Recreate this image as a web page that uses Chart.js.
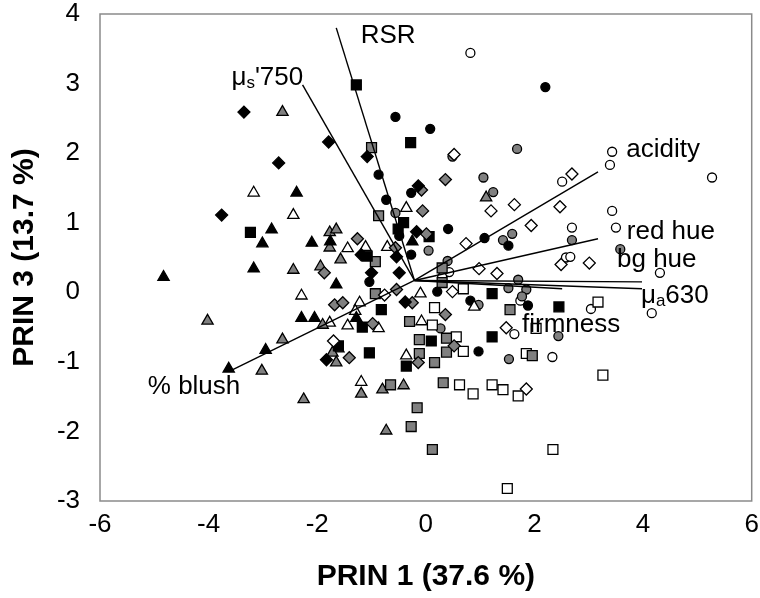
<!DOCTYPE html>
<html>
<head>
<meta charset="utf-8">
<script src="https://cdn.jsdelivr.net/npm/chart.js@4"></script>
<style>
  html, body { margin: 0; padding: 0; background: #fff; }
  #wrap { width: 760px; height: 598px; }
</style>
</head>
<body>
<div id="wrap"><canvas id="biplot" width="760" height="598"></canvas></div>
<script>
// PCA scores (PRIN 1, PRIN 3), one array per marker style
const blackDiamonds = [[-3.35,2.59],[-2.71,1.86],[-3.76,1.11],[-1.79,2.16],[-1.08,1.95],[-0.14,1.53],[-0.17,0.87],[-1.19,0.54],[-1.00,0.28],[-0.49,0.28],[-0.38,-0.14],[-1.83,-0.97],[-0.54,0.51]];
const greyDiamonds = [[0.36,1.62],[-0.08,1.47],[-0.06,1.17],[0.01,0.84],[-1.26,0.77],[-1.87,0.28],[-0.56,0.64],[-0.54,0.04],[-1.68,-0.18],[-1.53,-0.15],[-0.25,-0.15],[-0.98,-0.45],[-1.41,-0.94],[-0.14,-1.01],[0.52,-0.77],[0.36,-0.32]];
const whiteDiamonds = [[0.52,1.98],[1.20,1.17],[1.63,1.26],[0.74,0.70],[2.69,1.70],[2.47,1.23],[1.94,0.96],[2.49,0.40],[3.01,0.42],[-0.76,-0.04],[0.98,0.34],[1.31,0.27],[0.49,0.01],[-1.70,-0.70],[1.48,-0.51],[1.85,-1.39]];
const blackSquares = [[-1.28,2.98],[-0.28,2.15],[-0.41,1.00],[-0.51,0.91],[0.06,0.80],[-1.08,0.52],[-3.23,0.86],[-0.82,-0.25],[-1.17,-0.50],[1.22,-0.02],[2.45,-0.21],[-1.61,-0.77],[-1.04,-0.87],[0.10,-0.70],[-0.36,-1.06],[1.22,-0.64]];
const greySquares = [[-1.00,2.08],[-0.87,1.10],[-0.93,0.44],[-0.93,-0.02],[0.30,0.35],[0.30,0.14],[-0.30,-0.42],[1.55,-0.25],[-0.12,-0.68],[0.38,-0.66],[0.38,-0.86],[-0.12,-0.88],[0.16,-1.01],[1.96,-0.91],[0.32,-1.30],[-0.65,-1.33],[-0.16,-1.66],[-0.27,-1.93],[0.12,-2.26]];
const whiteSquares = [[0.69,0.05],[0.16,-0.22],[0.12,-0.47],[0.56,-0.64],[0.69,-0.85],[0.62,-1.33],[0.87,-1.46],[1.22,-1.33],[1.42,-1.40],[1.70,-1.49],[2.03,-0.52],[3.17,-0.14],[1.85,-0.88],[3.26,-1.19],[2.34,-2.26],[1.50,-2.82]];
const blackTriangles = [[-2.38,1.43],[-2.84,0.90],[-3.01,0.70],[-2.10,0.71],[-1.76,0.73],[-4.83,0.22],[-3.17,0.34],[-2.29,-0.37],[-2.05,-0.37],[-2.95,-0.83],[-3.63,-1.10],[-1.65,0.11],[-0.25,0.73],[-1.28,-0.37]];
const greyTriangles = [[-2.64,2.59],[-1.77,0.86],[-1.65,0.90],[-1.77,0.64],[-2.44,0.32],[-1.94,0.37],[-1.57,0.47],[-4.02,-0.41],[-2.64,-0.68],[-3.02,-1.13],[-2.25,-1.54],[-1.90,-0.47],[-1.61,-0.81],[-1.72,-0.87],[-1.65,-1.01],[-1.19,-1.46],[-0.80,-1.40],[-0.41,-1.34],[-0.73,-1.99],[1.11,1.36]];
const whiteTriangles = [[-3.17,1.43],[-2.44,1.11],[-1.44,0.63],[-1.11,0.65],[-0.71,0.65],[-0.36,1.21],[-2.29,-0.05],[-1.22,-0.15],[-1.30,-0.27],[-0.10,-0.02],[-1.77,-0.44],[-1.44,-0.48],[-0.87,-0.52],[-0.08,-0.42],[-0.36,-0.91],[-1.19,-1.29],[0.89,-0.21]];
const blackCircles = [[-0.56,2.52],[0.08,2.35],[-0.87,1.69],[-0.27,1.43],[-0.73,1.33],[-0.49,0.81],[0.41,0.91],[1.08,0.78],[1.52,0.67],[-0.27,0.54],[-1.04,0.15],[2.20,2.95],[0.21,0.01],[0.82,-0.12],[0.97,-0.85],[1.88,-0.19]];
const greyCircles = [[0.49,1.95],[1.68,2.06],[1.06,1.65],[1.24,1.44],[-0.56,1.14],[0.05,0.60],[1.42,0.75],[1.59,0.84],[2.69,0.75],[3.58,0.62],[0.40,0.45],[1.70,0.18],[1.52,0.06],[1.85,0.04],[1.77,-0.06],[0.97,-0.18],[0.27,-0.52],[2.44,-0.63],[1.53,-0.96]];
const whiteCircles = [[0.82,3.44],[3.43,2.02],[3.39,1.83],[5.27,1.65],[2.51,1.59],[3.43,1.17],[2.69,0.93],[3.50,0.93],[2.58,0.50],[2.66,0.51],[4.31,0.28],[0.43,0.29],[0.30,0.22],[1.74,-0.12],[3.04,-0.24],[4.16,-0.30],[1.63,-0.60],[2.33,-0.93]];

// loading vectors
const loadingNames = ['RSR', "\u03bcs'750", 'acidity', 'red hue', 'bg hue', '\u03bca630', 'firmness', '% blush'];
const loadingSubIndex = [-1, 1, -1, -1, -1, 1, -1, -1];
const loadingOrigin = [-0.21, 0.17];
const loadingEnds = [[-1.65,3.80],[-2.27,2.98],[3.17,1.73],[3.17,0.77],[3.98,0.15],[3.98,0.05],[2.51,0.05],[-3.63,-1.14]];
const labelAnchors = [[-1.20,3.58],[-3.58,2.98],[3.69,1.95],[3.70,0.77],[3.52,0.37],[3.96,-0.15],[1.77,-0.57],[-5.12,-1.46]];

const xTicks = [-6, -4, -2, 0, 2, 4, 6];
const yTicks = [-3, -2, -1, 0, 1, 2, 3, 4];

const FONT = '"Liberation Sans", Arial, sans-serif';
const GREY = '#808080';

const toPts = arr => arr.map(p => ({ x: p[0], y: p[1] }));

function markerSet(data, shape, fill, radius) {
  return {
    data: toPts(data),
    pointStyle: shape,
    pointRadius: radius,
    pointHoverRadius: radius,
    backgroundColor: fill,
    borderColor: '#000',
    pointBorderWidth: 1.3,
    borderWidth: 1.3,
    showLine: false
  };
}

const vectorSets = loadingEnds.map(e => ({
  data: [{ x: loadingOrigin[0], y: loadingOrigin[1] }, { x: e[0], y: e[1] }],
  showLine: true,
  borderColor: '#000',
  borderWidth: 1.4,
  pointRadius: 0,
  pointHoverRadius: 0,
  fill: false
}));

const pointSets = [
  markerSet(blackDiamonds, 'rectRot', '#000', 6),
  markerSet(greyDiamonds, 'rectRot', GREY, 6),
  markerSet(whiteDiamonds, 'rectRot', '#fff', 6),
  markerSet(blackSquares, 'rect', '#000', 7),
  markerSet(greySquares, 'rect', GREY, 7),
  markerSet(whiteSquares, 'rect', '#fff', 7),
  markerSet(blackTriangles, 'triangle', '#000', 6.5),
  markerSet(greyTriangles, 'triangle', GREY, 6.5),
  markerSet(whiteTriangles, 'triangle', '#fff', 6.5),
  markerSet(blackCircles, 'circle', '#000', 4.5),
  markerSet(greyCircles, 'circle', GREY, 4.5),
  markerSet(whiteCircles, 'circle', '#fff', 4.5)
];

// frame around the plot area
const frame = {
  id: 'frame',
  beforeDatasetsDraw(chart) {
    const { ctx, chartArea: a } = chart;
    ctx.save();
    ctx.strokeStyle = '#8a8a8a';
    ctx.lineWidth = 1.5;
    ctx.strokeRect(a.left, a.top, a.right - a.left, a.bottom - a.top);
    ctx.restore();
  }
};

// names of the loading vectors, with subscripts for the mu labels
const vectorLabels = {
  id: 'vectorLabels',
  afterDatasetsDraw(chart) {
    const { ctx, scales } = chart;
    ctx.save();
    ctx.fillStyle = '#000';
    ctx.textBaseline = 'alphabetic';
    ctx.textAlign = 'left';
    loadingNames.forEach((name, i) => {
      let px = scales.x.getPixelForValue(labelAnchors[i][0]);
      const py = scales.y.getPixelForValue(labelAnchors[i][1]);
      const sub = loadingSubIndex[i];
      [...name].forEach((ch, k) => {
        if (k === sub) {
          ctx.font = '17px ' + FONT;
          ctx.fillText(ch, px, py + 3);
        } else {
          ctx.font = '26px ' + FONT;
          ctx.fillText(ch, px, py);
        }
        px += ctx.measureText(ch).width;
      });
    });
    ctx.restore();
  }
};

new Chart(document.getElementById('biplot'), {
  type: 'scatter',
  data: { datasets: [...vectorSets, ...pointSets] },
  options: {
    responsive: false,
    animation: false,
    events: [],
    layout: { padding: { left: 0, right: 7, top: 14, bottom: 0 } },
    plugins: { legend: { display: false }, tooltip: { enabled: false } },
    scales: {
      x: {
        type: 'linear',
        min: -6, max: 6,
        afterBuildTicks: s => { s.ticks = xTicks.map(v => ({ value: v })); },
        afterFit: s => { s.height = 97; s.paddingLeft = 0; s.paddingRight = 0; },
        grid: { display: false, drawTicks: false },
        border: { display: false },
        ticks: { color: '#000', padding: 8, font: { family: FONT, size: 26 } },
        title: {
          display: true, text: 'PRIN 1 (37.6 %)', color: '#000',
          font: { family: FONT, size: 30, weight: 'bold' },
          padding: { top: 0, bottom: 3 }
        }
      },
      y: {
        type: 'linear',
        min: -3, max: 4,
        afterBuildTicks: s => { s.ticks = yTicks.map(v => ({ value: v })); },
        afterFit: s => { s.width = 100; s.paddingTop = 0; s.paddingBottom = 0; },
        grid: { display: false, drawTicks: false },
        border: { display: false },
        ticks: { color: '#000', padding: 20, font: { family: FONT, size: 26 } },
        title: {
          display: true, text: 'PRIN 3 (13.7 %)', color: '#000',
          font: { family: FONT, size: 30, weight: 'bold' },
          padding: { top: 7, bottom: 0 }
        }
      }
    }
  },
  plugins: [frame, vectorLabels]
});
</script>
</body>
</html>
